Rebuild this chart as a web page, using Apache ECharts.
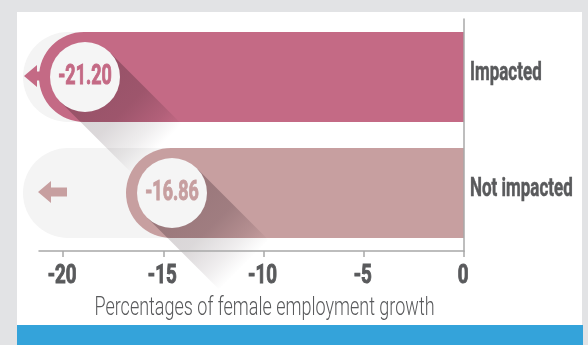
<!DOCTYPE html>
<html>
<head>
<meta charset="utf-8">
<script src="https://cdn.jsdelivr.net/npm/echarts@6/dist/echarts.min.js"></script>
<style>
html,body{margin:0;padding:0;background:#e2e3e5;}
#chart{width:588px;height:345px;}
</style>
</head>
<body>
<div id="chart"></div>
<script>
// ---- data ----
const categories = ['Impacted', 'Not impacted'];
const values = [-21.20, -16.86];
const tickValues = [-20, -15, -10, -5, 0];
const barColors = ['#c46a85', '#c79fa0'];
const axisTitle = 'Percentages of female employment growth';

const xMin = -21.2, xMax = 0;
const seriesData = values.map((v, i) => [v, i]);
const tickData = tickValues.map(v => [v, 0]);
const catData = categories.map((c, i) => [0, i]);

const textColor = '#595a5c';
const font = 'Roboto, "Liberation Sans", sans-serif';

function geom(params, api) {
  const val = api.value(0), cat = api.value(1);
  const zero = api.coord([0, cat]);
  const left = api.coord([val, cat]);
  const axisStart = api.coord([xMin, cat])[0];
  const band = api.size([0, 1])[1];
  const h = band * 0.776;
  return {val, cat, zeroX: zero[0], leftX: left[0], cy: zero[1], h, trackLeft: axisStart - 16};
}

function renderTrack(params, api) {
  const g = geom(params, api);
  return {
    type: 'rect',
    shape: {x: g.trackLeft, y: g.cy - g.h / 2, width: g.zeroX - g.trackLeft, height: g.h, r: [g.h / 2, 0, 0, g.h / 2]},
    style: {fill: '#f4f4f4'}
  };
}

function shadowFill(cx, cy, D, a) {
  const e = D / Math.SQRT2;
  return {
    type: 'linear', global: true,
    x: cx, y: cy, x2: cx + e, y2: cy + e,
    colorStops: [
      {offset: 0, color: 'rgba(45,25,35,' + a + ')'},
      {offset: 0.5, color: 'rgba(45,25,35,' + (a * 0.85) + ')'},
      {offset: 0.8, color: 'rgba(45,25,35,' + (a * 0.4) + ')'},
      {offset: 1, color: 'rgba(45,25,35,0)'}
    ]
  };
}

function renderMain(params, api) {
  const g = geom(params, api);
  const color = barColors[g.cat];
  const r = g.h / 2;
  const cx = g.leftX + 46, cy = g.cy, cr = 35;
  const k = cr / Math.SQRT2;
  const D = 102;
  const L = D / Math.SQRT2;
  const A = [cx - k, cy + k], B = [cx + k, cy - k];
  const shadowPts = [A, B, [B[0] + L, B[1] + L], [A[0] + L, A[1] + L]];
  const barShape = {x: g.leftX, y: cy - r, width: g.zeroX - g.leftX, height: g.h, r: [r, 0, 0, r]};
  let tip, shaftEnd;
  if (g.leftX - g.trackLeft < 40) { tip = g.trackLeft + 1; shaftEnd = g.leftX + 6; }
  else { tip = g.trackLeft + 15; shaftEnd = tip + 29; }
  const ay = cy - 1, hl = 13, hh = 11, sh = 4.5;
  return {
    type: 'group',
    children: [
      {
        type: 'polygon',
        shape: {points: [[tip, ay], [tip + hl, ay - hh], [tip + hl, ay - sh], [shaftEnd, ay - sh], [shaftEnd, ay + sh], [tip + hl, ay + sh], [tip + hl, ay + hh]]},
        style: {fill: color}
      },
      {type: 'polygon', shape: {points: shadowPts}, style: {fill: shadowFill(cx, cy, D, 0.2)}},
      {type: 'rect', shape: barShape, style: {fill: color}},
      {
        type: 'polygon', shape: {points: shadowPts},
        clipPath: {type: 'rect', shape: barShape},
        style: {fill: shadowFill(cx, cy, D, 0.3)}
      },
      {type: 'circle', shape: {cx: cx, cy: cy, r: cr}, style: {fill: '#f5f5f5'}},
      {
        type: 'text', x: cx, y: cy, scaleX: 0.64,
        style: {text: g.val.toFixed(2), x: 0, y: 0, align: 'center', verticalAlign: 'middle', fill: color,
                stroke: color, lineWidth: 1, font: 'bold 28px ' + font}
      }
    ]
  };
}

function renderTickLabel(params, api) {
  const p = api.coord([api.value(0), 0]);
  const bottom = params.coordSys.y + params.coordSys.height;
  return {
    type: 'text', x: p[0] - 1, y: bottom + 25, scaleX: 0.72,
    style: {text: String(api.value(0)), x: 0, y: 0, align: 'center', verticalAlign: 'middle', fill: textColor,
            stroke: textColor, lineWidth: 1, font: 'bold 26px ' + font}
  };
}

function renderCatLabel(params, api) {
  const p = api.coord([0, api.value(1)]);
  return {
    type: 'text', x: p[0] + 6, y: p[1] - 3, scaleX: 0.68,
    style: {text: categories[params.dataIndex], x: 0, y: 0, align: 'left', verticalAlign: 'middle', fill: textColor,
            stroke: textColor, lineWidth: 0.5, font: 'bold 25px ' + font}
  };
}

const chart = echarts.init(document.getElementById('chart'), null, {renderer: 'canvas'});
chart.setOption({
  animation: false,
  graphic: [
    {type: 'rect', z: -100, shape: {x: 17, y: 12, width: 565, height: 313}, style: {fill: '#ffffff'}},
    {type: 'rect', z: -100, shape: {x: 17, y: 325, width: 566, height: 20}, style: {fill: '#34a3da'}},
    {type: 'text', z: 10, x: 264.5, y: 309, scaleX: 0.72,
     style: {text: axisTitle, x: 0, y: 0, align: 'center', verticalAlign: 'middle', fill: textColor, font: '300 25px ' + font}}
  ],
  grid: {left: 39, right: 124, top: 19, bottom: 94, containLabel: false, outerBoundsMode: 'none'},
  xAxis: {
    type: 'value', min: xMin, max: xMax, z: 5,
    axisLine: {show: true, lineStyle: {color: '#a8a8a8', width: 1.5}},
    axisTick: {show: true, customValues: tickValues, length: 6, lineStyle: {color: '#a8a8a8', width: 1.5}},
    axisLabel: {show: false},
    splitLine: {show: false}
  },
  yAxis: {
    type: 'category', data: categories, inverse: true, position: 'right', z: 5,
    axisLine: {show: true, lineStyle: {color: '#a8a8a8', width: 1.5}},
    axisTick: {show: false},
    axisLabel: {show: false},
    splitLine: {show: false}
  },
  series: [
    {type: 'custom', z: 1, clip: false, data: seriesData, encode: {x: 0, y: 1}, renderItem: renderTrack, silent: true},
    {type: 'custom', z: 2, clip: false, data: seriesData, encode: {x: 0, y: 1}, renderItem: renderMain, silent: true},
    {type: 'custom', z: 6, clip: false, data: tickData, encode: {x: 0, y: 1}, renderItem: renderTickLabel, silent: true},
    {type: 'custom', z: 6, clip: false, data: catData, encode: {x: 0, y: 1}, renderItem: renderCatLabel, silent: true}
  ]
});
</script>
</body>
</html>
